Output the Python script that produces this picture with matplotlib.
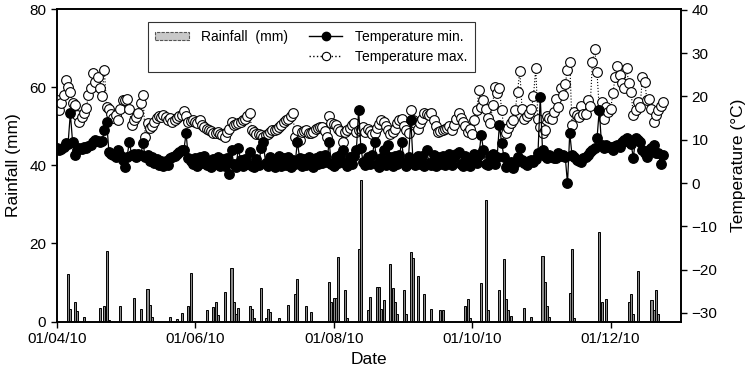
import numpy as np
import pandas as pd
import matplotlib
matplotlib.use('Agg')
import matplotlib.pyplot as plt
import matplotlib.dates as mdates
from matplotlib.lines import Line2D
from matplotlib.patches import Patch

plt.rcParams['font.family'] = ['Liberation Sans', 'DejaVu Sans']

start = pd.Timestamp('2010-04-01')

# daily temperatures (deg C) from 1 Apr 2010
t_min = [8.0, 7.6, 7.8, 8.4, 9.2, 9.0, 16.1, 9.5, 6.5, 7.6,
         8.0, 7.8, 8.4, 8.0, 8.6, 8.8, 9.5, 10.0, 9.8, 9.5,
         9.8, 12.2, 14.2, 7.2, 6.8, 6.5, 6.1, 7.6, 6.4, 5.3,
         3.8, 6.1, 9.5, 6.5, 6.8, 6.1, 6.8, 6.4, 9.2, 6.1,
         6.5, 5.2, 6.0, 4.6, 5.5, 4.2, 5.0, 3.9, 5.2, 4.2,
         5.7, 6.1, 6.3, 6.8, 7.2, 7.6, 7.6, 11.5, 5.7, 5.0,
         4.5, 5.8, 4.0, 6.0, 4.6, 6.3, 4.2, 5.0, 3.6, 5.5,
         4.3, 6.0, 3.9, 5.6, 4.0, 5.8, 2.2, 7.6, 4.4, 3.8,
         8.0, 5.3, 3.9, 5.6, 4.4, 7.2, 4.0, 3.6, 5.6, 4.2,
         8.0, 9.5, 4.6, 3.9, 6.0, 4.3, 3.6, 5.5, 6.2, 4.0,
         5.8, 4.2, 6.0, 3.8, 5.3, 4.4, 9.5, 5.8, 3.9, 5.6,
         4.2, 6.1, 4.5, 3.7, 5.9, 4.3, 6.2, 4.6, 6.5, 4.8,
         9.5, 4.4, 3.9, 6.1, 4.6, 6.5, 7.6, 4.6, 4.0, 6.0,
         4.4, 6.3, 7.6, 16.9, 8.0, 4.8, 4.1, 6.0, 4.4, 6.4,
         9.5, 4.5, 3.8, 5.9, 7.6, 4.2, 8.8, 6.0, 4.0, 6.2,
         4.5, 6.5, 9.5, 4.6, 3.9, 6.1, 14.5, 4.6, 4.1, 6.3,
         4.3, 6.2, 4.0, 7.6, 4.6, 4.2, 6.4, 3.9, 6.0, 4.5,
         6.3, 4.1, 5.9, 6.6, 4.2, 6.0, 6.6, 7.2, 4.5, 4.0,
         6.2, 4.4, 3.9, 6.1, 6.6, 4.6, 6.4, 11.1, 7.6, 4.5,
         4.1, 6.2, 6.8, 4.3, 6.0, 13.4, 9.2, 6.1, 3.8, 4.4,
         4.9, 3.4, 4.6, 6.0, 8.0, 5.4, 4.6, 4.2, 5.0, 5.4,
         4.9, 5.6, 6.9, 19.9, 7.6, 6.2, 5.7, 6.5, 6.1, 5.8,
         5.7, 6.9, 6.3, 6.5, 6.1, -0.1, 11.6, 6.4, 6.0, 5.3,
         5.0, 4.9, 5.7, 6.1, 6.5, 7.2, 7.6, 8.0, 10.3, 16.9,
         8.8, 8.0, 8.8, 8.4, 8.4, 7.6, 8.6, 8.8, 8.4, 9.6,
         10.0, 10.3, 9.6, 9.0, 5.9, 10.3, 10.0, 9.6, 7.6, 7.0,
         6.1, 7.6, 8.2, 8.8, 6.9, 7.0, 4.3, 6.4]

t_max = [19.2, 16.9, 18.6, 20.3, 23.8, 22.1, 21.1, 18.4, 18.0, 15.7,
         14.2, 15.2, 16.1, 17.3, 20.3, 21.9, 25.5, 23.4, 24.5, 22.0,
         20.0, 26.1, 17.6, 17.0, 16.0, 15.0, 15.7, 14.5, 17.0, 19.2,
         19.2, 19.4, 17.2, 13.4, 14.5, 15.2, 16.1, 18.4, 20.3, 10.7,
         13.8, 12.8, 13.1, 14.2, 15.0, 15.4, 15.2, 15.7, 15.3, 14.6,
         15.0, 14.0, 14.6, 15.0, 15.4, 15.7, 16.7, 15.4, 14.0, 14.4,
         14.5, 14.0, 13.8, 14.5, 13.4, 13.0, 12.6, 12.2, 12.0, 11.5,
         11.6, 11.8, 11.3, 11.0, 10.7, 11.8, 12.6, 14.2, 13.4, 13.6,
         13.8, 14.2, 14.5, 14.9, 15.5, 16.1, 12.2, 11.8, 11.3, 11.3,
         11.0, 10.7, 11.0, 11.3, 11.8, 12.2, 12.2, 12.6, 13.0, 13.4,
         14.2, 14.5, 14.9, 15.5, 16.1, 10.7, 12.2, 9.9, 11.8, 12.0,
         12.2, 11.5, 11.6, 11.8, 12.6, 12.8, 13.0, 13.0, 12.0, 10.7,
         15.4, 13.8, 13.6, 13.4, 12.6, 12.0, 9.5, 11.8, 12.2, 12.8,
         13.4, 13.8, 11.8, 12.2, 12.6, 13.0, 11.8, 12.6, 12.0, 11.3,
         11.5, 12.8, 13.6, 14.5, 14.2, 13.2, 12.2, 11.3, 11.8, 12.6,
         13.8, 14.5, 14.9, 13.1, 12.2, 11.5, 16.9, 14.5, 13.8, 12.6,
         13.8, 14.9, 16.1, 15.9, 15.7, 16.1, 14.5, 13.1, 11.8, 12.0,
         12.2, 12.6, 12.8, 13.1, 12.2, 13.4, 14.8, 16.1, 15.0, 14.0,
         13.1, 11.8, 12.4, 11.3, 14.5, 16.9, 21.5, 17.6, 19.2, 17.0,
         15.0, 13.8, 18.0, 22.2, 20.8, 21.9, 16.9, 12.5, 11.5, 12.8,
         13.8, 14.5, 16.9, 21.1, 25.9, 17.0, 14.9, 15.4, 16.1, 17.0,
         20.0, 26.5, 14.9, 13.0, 11.5, 12.2, 15.4, 15.0, 14.9, 16.5,
         19.5, 17.6, 21.9, 20.4, 23.0, 26.1, 27.9, 13.4, 16.5, 15.7,
         15.2, 17.9, 16.0, 16.0, 19.2, 17.9, 28.0, 30.9, 25.7, 16.9,
         18.8, 14.9, 17.5, 16.5, 17.0, 20.7, 24.5, 27.0, 25.0, 23.1,
         21.9, 26.5, 23.1, 21.1, 15.7, 16.9, 18.8, 17.6, 24.5, 23.4,
         19.2, 19.5, 17.2, 14.2, 15.8, 16.9, 17.9, 18.8]

# rainfall events: day counted from 1 Apr 2010, mm
rain_day = [5, 6, 8, 9, 12, 19, 21, 22, 23, 28, 34, 37, 40, 41, 42, 50, 53, 55, 58, 59,
            66, 69, 70, 71, 74, 77, 78, 79, 80, 85, 86, 87, 90, 92, 93, 94, 98, 102, 105, 106,
            110, 112, 120, 121, 122, 123, 124, 127, 128, 133, 134, 137, 138, 141, 142, 143, 144,
            147, 148, 149, 150, 153, 154, 156, 157, 159, 162, 165, 169, 170, 180, 181, 182,
            187, 189, 190, 195, 197, 198, 199, 200, 206, 209, 214, 215, 216, 217, 226, 227, 228,
            239, 240, 242, 252, 253, 254, 256, 262, 263, 264, 265]
rain_mm = [12.2, 3.2, 5.0, 2.7, 1.2, 3.6, 4.1, 18.1, 0.5, 4.1, 6.0, 3.3, 8.4, 4.3, 1.1, 1.2, 0.6, 2.1, 4.1, 12.5,
           3.0, 3.8, 5.0, 1.7, 7.6, 13.8, 5.0, 2.0, 3.6, 4.1, 3.3, 0.8, 8.7, 0.8, 3.3, 2.5, 1.0, 4.3, 7.0, 10.8,
           4.1, 2.5, 10.2, 4.9, 6.1, 6.1, 16.5, 8.1, 1.0, 18.6, 36.2, 3.0, 6.4, 8.8, 8.8, 3.1, 5.4,
           14.7, 8.5, 5.0, 2.0, 8.1, 2.0, 17.7, 16.2, 11.7, 7.1, 3.2, 2.9, 2.9, 3.9, 5.8, 1.0,
           10.0, 31.1, 3.0, 8.1, 16.0, 5.8, 3.0, 1.5, 3.6, 1.3, 16.9, 10.1, 3.9, 1.3, 7.2, 18.6, 0.8,
           23.0, 5.0, 5.8, 5.1, 7.1, 2.0, 13.0, 5.5, 3.0, 8.1, 2.0]

t_dates = start + pd.to_timedelta(np.arange(len(t_min)), unit='D')
r_dates = start + pd.to_timedelta(rain_day, unit='D')

fig = plt.figure(figsize=(7.5, 3.77), dpi=100)
ax = fig.add_axes([0.0756, 0.147, 0.8324, 0.829])
ax2 = ax.twinx()

ax.bar(r_dates, rain_mm, width=0.9, color='#8a8a8a', edgecolor='black', linewidth=0.7)
ax.set_ylim(0, 80)
ax.set_yticks([0, 20, 40, 60, 80])
ax.set_xlim(pd.Timestamp('2010-04-01'), pd.Timestamp('2011-01-01'))
ax.xaxis.set_major_locator(mdates.MonthLocator(bymonth=[4, 6, 8, 10, 12]))
ax.xaxis.set_major_formatter(mdates.DateFormatter('%d/%m/%y'))
ax.set_xlabel('Date', fontsize=12.5)
ax.set_ylabel('Rainfall (mm)', fontsize=12.5, labelpad=6)

ax2.plot(t_dates, t_max, color='black', linestyle=':', linewidth=0.8,
         marker='o', markersize=7, markerfacecolor='white', markeredgecolor='black',
         markeredgewidth=0.8)
ax2.plot(t_dates, t_min, color='black', linestyle='-', linewidth=0.9,
         marker='o', markersize=6.8, markerfacecolor='black', markeredgecolor='black')
ax2.set_ylim(-32, 40.2)
ax2.set_yticks([-30, -20, -10, 0, 10, 20, 30, 40])
ax2.set_ylabel('Temperature (\u00b0C)', fontsize=12.5, rotation=90, labelpad=10)

for a in (ax, ax2):
    a.tick_params(labelsize=11, width=1, length=4, direction='out')
    for s in a.spines.values():
        s.set_linewidth(1.2)

h_rain = Patch(facecolor='#c8c8c8', edgecolor='#555555', linestyle=(0, (3, 1)), linewidth=0.8)
h_blank = Line2D([], [], linestyle='none')
h_min = Line2D([], [], color='black', linestyle='-', linewidth=1, marker='o',
               markersize=6, markerfacecolor='black')
h_max = Line2D([], [], color='black', linestyle=':', linewidth=1, marker='o',
               markersize=6, markerfacecolor='white', markeredgewidth=0.8)
leg = ax2.legend([h_rain, h_blank, h_min, h_max],
                 ['Rainfall  (mm)', ' ', 'Temperature min.', 'Temperature max.'],
                 ncol=2, loc='upper left', bbox_to_anchor=(0.146, 0.958),
                 borderaxespad=0, fontsize=10, frameon=True, fancybox=False,
                 edgecolor='black', handlelength=2.4, handleheight=0.6,
                 columnspacing=1.5, labelspacing=0.45, borderpad=0.55, handletextpad=0.9)
leg.get_frame().set_linewidth(0.8)

plt.savefig('out.png', dpi=100)
